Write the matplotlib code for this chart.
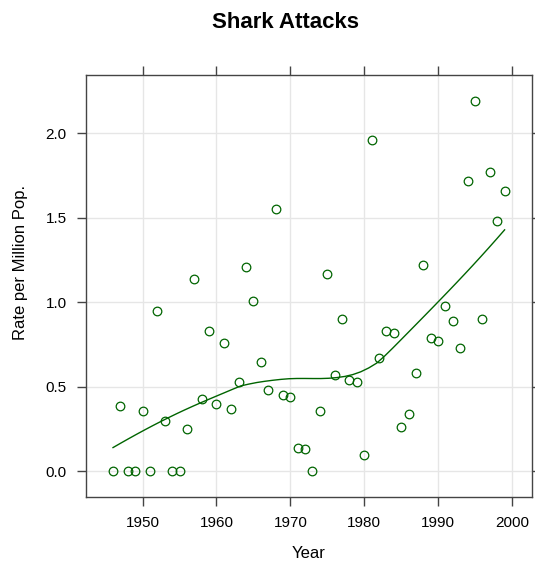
import numpy as np
import matplotlib
matplotlib.use("Agg")
import matplotlib.pyplot as plt

plt.rcParams['font.family'] = ['Liberation Sans', 'DejaVu Sans']

years = list(range(1946, 2000))
rate = [0.00, 0.39, 0.00, 0.00, 0.36, 0.00, 0.95, 0.30, 0.00, 0.00,
        0.25, 1.14, 0.43, 0.83, 0.40, 0.76, 0.37, 0.53, 1.21, 1.01,
        0.65, 0.48, 1.55, 0.45, 0.44, 0.14, 0.13, 0.00, 0.36, 1.17,
        0.57, 0.90, 0.54, 0.53, 0.10, 1.96, 0.67, 0.83, 0.82, 0.26,
        0.34, 0.58, 1.22, 0.79, 0.77, 0.98, 0.89, 0.73, 1.72, 2.19,
        0.90, 1.77, 1.48, 1.66]
xticks = [1950, 1960, 1970, 1980, 1990, 2000]
yticks = [0.0, 0.5, 1.0, 1.5, 2.0]

GREEN = '#006400'


def loess(x, y, xout, span=2/3, iters=4):
    # local linear fit, tricube weights, bisquare robustness steps
    x = np.asarray(x, float); y = np.asarray(y, float)
    n = len(x)
    q = int(np.floor(n * span))
    rob = np.ones(n)

    def fit_at(x0, w_rob):
        d = np.abs(x - x0)
        h = np.sort(d)[q - 1]
        w = np.clip(1 - (d / h) ** 3, 0, None) ** 3 * w_rob
        X = np.column_stack([np.ones(n), x - x0])
        W = np.diag(w)
        beta = np.linalg.lstsq(X.T @ W @ X, X.T @ W @ y, rcond=None)[0]
        return beta[0]

    for _ in range(iters - 1):
        fitted = np.array([fit_at(xi, rob) for xi in x])
        res = y - fitted
        s = np.median(np.abs(res))
        u = res / (6 * s)
        rob = np.where(np.abs(u) < 1, (1 - u ** 2) ** 2, 0)
    return np.array([fit_at(x0, rob) for x0 in xout])


fig = plt.figure(figsize=[5.35, 5.61], dpi=100)
ax = fig.add_axes([0.160, 0.1135, 0.8344, 0.7523])

ax.grid(True, color='#e6e6e6', linewidth=1)
ax.set_axisbelow(True)

ax.plot(years, rate, 'o', mfc='none', mec=GREEN, ms=6.2, mew=0.9)
xs = np.linspace(min(years), max(years), 50)
ax.plot(xs, loess(years, rate, xs), color=GREEN, linewidth=1)

ax.set_xlim(1942.29, 2002.71)
ax.set_ylim(-0.153, 2.343)
ax.set_xticks(xticks)
ax.set_yticks(yticks)
ax.set_yticklabels(['{:.1f}'.format(v) for v in yticks])

for s in ax.spines.values():
    s.set_color('#444444')
    s.set_linewidth(1)
ax.tick_params(direction='out', length=6.5, width=1, color='#444444',
               top=True, right=True, labelsize=11, pad=7)

fig.text(0.533, 1 - 22 / 561, 'Shark Attacks', ha='center', va='center',
         fontsize=16, fontweight='bold')
fig.text(0.5775, 1 - 553 / 561, 'Year', ha='center', va='center', fontsize=12)
fig.text(20.5 / 535, 1 - 262 / 561, 'Rate per Million Pop.', ha='center',
         va='center', rotation=90, fontsize=12)

fig.savefig('out.png', dpi=100)
